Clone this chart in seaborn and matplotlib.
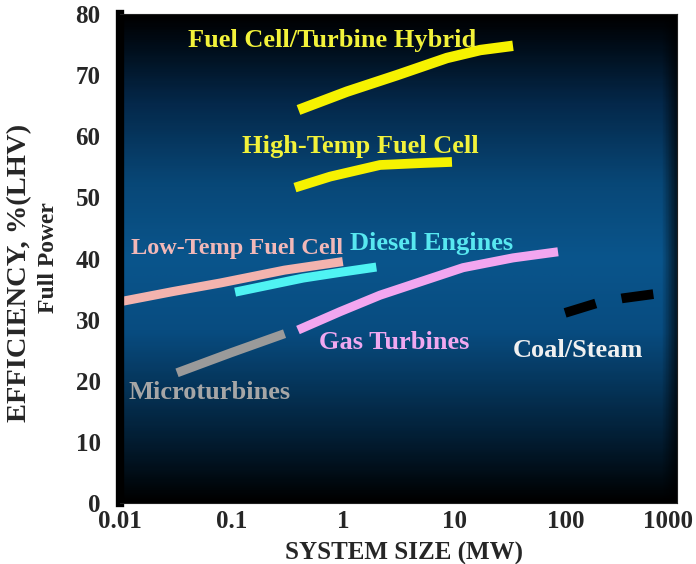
import numpy as np
import pandas as pd
import matplotlib
matplotlib.use("Agg")
import matplotlib.pyplot as plt
import matplotlib.transforms as mtransforms
from matplotlib.colors import LinearSegmentedColormap
import seaborn as sns

# data (x = system size MW, y = efficiency %)
hybrid_x = [0.40, 1.09, 3.07, 8.6, 17.1, 33.7]
hybrid_y = [64.3, 67.3, 70.0, 72.8, 74.1, 74.8]

hightemp_x = [0.372, 0.77, 2.16, 4.93, 9.55]
hightemp_y = [51.6, 53.4, 55.3, 55.6, 55.8]

lowtemp_x = [0.0105, 0.03, 0.08, 0.3, 1.0]
lowtemp_y = [33.0, 34.6, 36.0, 38.1, 39.5]

diesel_x = [0.108, 0.44, 1.0, 2.0]
diesel_y = [34.5, 36.8, 37.8, 38.6]

gas_x = [0.396, 0.944, 2.16, 12.0, 33.7, 85.5]
gas_y = [28.3, 31.3, 34.0, 38.5, 40.1, 41.1]

micro_x = [0.0325, 0.1, 0.3]
micro_y = [21.3, 24.6, 27.7]

coal_x = [99, 191, 327, 630]
coal_y = [31.1, 32.7, 33.5, 34.2]

x_ticks = [0.01, 0.1, 1, 10, 100, 1000]
x_tick_labels = ["0.01", "0.1", "1", "10", "100", "1000"]
y_ticks = [0, 10, 20, 30, 40, 50, 60, 70, 80]

rows = []
for name, xs, ys in [("hybrid", hybrid_x, hybrid_y), ("hightemp", hightemp_x, hightemp_y),
                     ("lowtemp", lowtemp_x, lowtemp_y), ("diesel", diesel_x, diesel_y),
                     ("gas", gas_x, gas_y), ("micro", micro_x, micro_y),
                     ("coal", coal_x, coal_y)]:
    for x, y in zip(xs, ys):
        rows.append({"serie": name, "size": x, "eff": y})
df = pd.DataFrame(rows)

estilo = {
    "hybrid": dict(color="#f6f200", lw=7.5, ls="-"),
    "hightemp": dict(color="#f6f200", lw=7.0, ls="-"),
    "lowtemp": dict(color="#f3b3ae", lw=6.5, ls="-"),
    "diesel": dict(color="#4ff3f3", lw=6.5, ls="-"),
    "gas": dict(color="#f2a6f0", lw=6.5, ls="-"),
    "micro": dict(color="#9a9a9a", lw=6.5, ls="-"),
    "coal": dict(color="#000000", lw=7.0, ls=(0, (3.3, 2.7))),
}

sns.set_style("white")
fuente = "Liberation Serif"

fig = plt.figure(figsize=(6.96, 5.64), dpi=100)
pos = [120 / 696, 61 / 564, 557 / 696, 489 / 564]

# fondo con degradado
ax_bg = fig.add_axes(pos, zorder=0)
cmap = LinearSegmentedColormap.from_list(
    "fondo", [(0.0, "#000000"), (0.15, "#03223b"), (0.35, "#084c80"),
              (0.5, "#0a558c"), (0.65, "#084878"), (0.82, "#04284a"),
              (0.95, "#000a14"), (1.0, "#000000")])
vert = np.linspace(0, 1, 300)[:, None]
grad = cmap(vert)[:, :, :3].repeat(200, axis=1)
horiz = np.ones(200)
horiz[-6:] = np.linspace(1, 0.35, 6)
grad = grad * horiz[None, :, None]
ax_bg.imshow(grad, origin="lower", aspect="auto", extent=[0, 1, 0, 1])
ax_bg.axis("off")

ax = fig.add_axes(pos, zorder=1)
ax.set_facecolor("none")

for name, st in estilo.items():
    sub = df[df["serie"] == name]
    sns.lineplot(data=sub, x="size", y="eff", ax=ax, color=st["color"], linewidth=st["lw"],
                 linestyle=st["ls"], estimator=None, sort=True,
                 solid_capstyle="butt", dash_capstyle="butt", solid_joinstyle="round")

ax.set_xscale("log")
ax.set_xlim(0.01, 1000)
ax.set_ylim(0, 80)
ax.set_xticks(x_ticks)
ax.set_xticklabels(x_tick_labels)
ax.xaxis.set_minor_locator(matplotlib.ticker.NullLocator())
ax.set_yticks(y_ticks)

for lab in ax.get_xticklabels() + ax.get_yticklabels():
    lab.set_fontfamily(fuente)
    lab.set_fontweight("bold")
    lab.set_fontsize(18)
ax.tick_params(axis="x", direction="in", length=8, width=1.3, color="#d8d8d8", pad=5)
ax.tick_params(axis="y", direction="in", length=7, width=1.3, color="#d8d8d8", pad=14)

# el "1000" queda un poco a la izquierda, como en el original
ultimo = ax.get_xticklabels()[-1]
ultimo.set_transform(ultimo.get_transform() + mtransforms.ScaledTranslation(-9 / 100, 0, fig.dpi_scale_trans))

for s in ["top", "right", "bottom"]:
    ax.spines[s].set_color("#202020")
    ax.spines[s].set_linewidth(0.8)
ax.spines["left"].set_color("black")
ax.spines["left"].set_linewidth(6)

ax.set_xlabel("SYSTEM SIZE (MW)", fontfamily=fuente, fontweight="bold", fontsize=18, labelpad=4)
ax.xaxis.set_label_coords(0.51, -0.08)
ax.set_ylabel("")
fig.text(20 / 696, 1 - 273 / 564, "EFFICIENCY, %(LHV)", rotation=90, ha="center", va="center",
         fontfamily=fuente, fontweight="bold", fontsize=20.5)
fig.text(49 / 696, 1 - 258 / 564, "Full Power", rotation=90, ha="center", va="center",
         fontfamily=fuente, fontweight="bold", fontsize=17)

etiquetas = [
    ("Fuel Cell/Turbine Hybrid", 0.80, 75.7, "#f2f23a", 19),
    ("High-Temp Fuel Cell", 1.43, 58.3, "#f2f23a", 19),
    ("Low-Temp Fuel Cell", 0.112, 41.7, "#f2b8b8", 17.5),
    ("Diesel Engines", 6.2, 42.4, "#58e8f0", 19),
    ("Gas Turbines", 2.88, 26.2, "#f0a8f0", 19),
    ("Coal/Steam", 128, 25.0, "#f0f0f0", 19),
    ("Microturbines", 0.064, 18.0, "#a6a6a6", 19),
]
for txt, x, y, c, fs in etiquetas:
    ax.text(x, y, txt, color=c, ha="center", va="center", fontfamily=fuente,
            fontweight="bold", fontsize=fs)

fig.savefig("out.png", dpi=100)
